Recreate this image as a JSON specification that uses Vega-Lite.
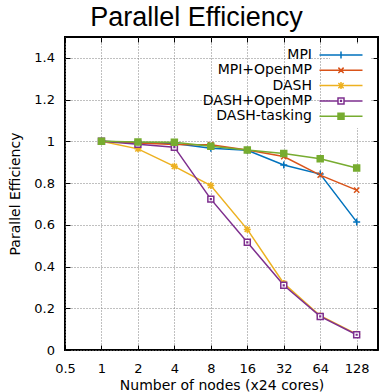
{
  "$schema": "https://vega.github.io/schema/vega-lite/v6.json",
  "autosize": {"type": "none"},
  "padding": {"left": 65, "top": 37, "right": 1, "bottom": 42},
  "width": 313,
  "height": 313,
  "background": "white",
  "title": {"text": "Parallel Efficiency", "font": "Liberation Sans", "fontSize": 27, "fontWeight": "normal", "color": "black", "anchor": "middle", "baseline": "alphabetic", "offset": 9, "dx": -25, "dy": 25},
  "config": {
    "font": "DejaVu Sans",
    "view": {"stroke": "black", "strokeWidth": 2},
    "axis": {"labelColor": "black", "titleColor": "black", "tickColor": "black", "tickWidth": 1, "tickSize": -5, "domain": false, "gridColor": "#808080", "gridDash": [1, 2], "gridWidth": 1, "labelFont": "DejaVu Sans", "titleFont": "DejaVu Sans", "labelFontSize": 13, "titleFontSize": 14, "titleFontWeight": "normal"}
  },
  "data": {"values": [
    {"n": 1, "series": "MPI", "eff": 1.0},
    {"n": 2, "series": "MPI", "eff": 0.995},
    {"n": 4, "series": "MPI", "eff": 0.99},
    {"n": 8, "series": "MPI", "eff": 0.967},
    {"n": 16, "series": "MPI", "eff": 0.957},
    {"n": 32, "series": "MPI", "eff": 0.887},
    {"n": 64, "series": "MPI", "eff": 0.843},
    {"n": 128, "series": "MPI", "eff": 0.614},
    {"n": 1, "series": "MPI+OpenMP", "eff": 1.0},
    {"n": 2, "series": "MPI+OpenMP", "eff": 0.992},
    {"n": 4, "series": "MPI+OpenMP", "eff": 0.985},
    {"n": 8, "series": "MPI+OpenMP", "eff": 0.984},
    {"n": 16, "series": "MPI+OpenMP", "eff": 0.959},
    {"n": 32, "series": "MPI+OpenMP", "eff": 0.927},
    {"n": 64, "series": "MPI+OpenMP", "eff": 0.838},
    {"n": 128, "series": "MPI+OpenMP", "eff": 0.766},
    {"n": 1, "series": "DASH", "eff": 1.0},
    {"n": 2, "series": "DASH", "eff": 0.964},
    {"n": 4, "series": "DASH", "eff": 0.88},
    {"n": 8, "series": "DASH", "eff": 0.788},
    {"n": 16, "series": "DASH", "eff": 0.578},
    {"n": 32, "series": "DASH", "eff": 0.319},
    {"n": 64, "series": "DASH", "eff": 0.164},
    {"n": 128, "series": "DASH", "eff": 0.076},
    {"n": 1, "series": "DASH+OpenMP", "eff": 1.0},
    {"n": 2, "series": "DASH+OpenMP", "eff": 0.986},
    {"n": 4, "series": "DASH+OpenMP", "eff": 0.972},
    {"n": 8, "series": "DASH+OpenMP", "eff": 0.723},
    {"n": 16, "series": "DASH+OpenMP", "eff": 0.516},
    {"n": 32, "series": "DASH+OpenMP", "eff": 0.31},
    {"n": 64, "series": "DASH+OpenMP", "eff": 0.161},
    {"n": 128, "series": "DASH+OpenMP", "eff": 0.073},
    {"n": 1, "series": "DASH-tasking", "eff": 1.0},
    {"n": 2, "series": "DASH-tasking", "eff": 0.997},
    {"n": 4, "series": "DASH-tasking", "eff": 0.996},
    {"n": 8, "series": "DASH-tasking", "eff": 0.976},
    {"n": 16, "series": "DASH-tasking", "eff": 0.958},
    {"n": 32, "series": "DASH-tasking", "eff": 0.942},
    {"n": 64, "series": "DASH-tasking", "eff": 0.917},
    {"n": 128, "series": "DASH-tasking", "eff": 0.872}
  ]},
  "resolve": {"axis": {"x": "independent", "y": "independent"}},
  "layer": [
    {
      "mark": {"type": "line", "strokeWidth": 1.5},
      "encoding": {
        "x": {"field": "n", "type": "quantitative",
          "scale": {"type": "log", "base": 2, "domain": [0.5, 192], "nice": false},
          "axis": {"orient": "bottom", "values": [0.5, 1, 2, 4, 8, 16, 32, 64, 128], "format": "~g", "labelPadding": 27, "labelBaseline": "alphabetic", "labelFlush": false, "title": "Number of nodes (x24 cores)", "titleBaseline": "alphabetic", "titleY": 39, "grid": true}},
        "y": {"field": "eff", "type": "quantitative",
          "scale": {"domain": [0, 1.5], "nice": false, "zero": true},
          "axis": {"orient": "left", "values": [0, 0.2, 0.4, 0.6, 0.8, 1, 1.2, 1.4], "format": "~g", "labelPadding": 15.5, "labelBaseline": "middle", "labelFlush": false, "title": "Parallel Efficiency", "titleAngle": -90, "titleBaseline": "alphabetic", "titleX": -46, "titleY": 156.5, "titleAlign": "center", "grid": true}},
        "color": {"field": "series", "type": "nominal",
          "scale": {"domain": ["MPI", "MPI+OpenMP", "DASH", "DASH+OpenMP", "DASH-tasking"], "range": ["#0072bd", "#d95319", "#edb120", "#7e2f8e", "#77ac30"]},
          "legend": {
            "orient": "none", "legendX": 265, "legendY": 7,
            "title": null,
            "labelFont": "DejaVu Sans", "labelFontSize": 14, "labelColor": "black",
            "labelAlign": "right", "labelOffset": -36,
            "symbolSize": 100, "symbolStrokeWidth": 1.5,
            "rowPadding": 1.3,
            "fillColor": "white", "padding": 4,
            "encode": {"symbols": {"update": {
              "shape": {"signal": "datum.value === 'MPI' ? 'M-4.3,0H4.3M0,-0.7V0.7' : datum.value === 'MPI+OpenMP' ? 'M-4.3,0H4.3M-0.53,-0.53L0.53,0.53M-0.53,0.53L0.53,-0.53' : datum.value === 'DASH' ? 'M-4.3,0H4.3M0,-0.7V0.7M-0.53,-0.53L0.53,0.53M-0.53,0.53L0.53,-0.53' : datum.value === 'DASH+OpenMP' ? 'M-4.3,0H-0.6M0.6,0H4.3M-0.6,-0.6H0.6V0.6H-0.6ZM-0.08,-0.08H0.08V0.08H-0.08Z' : 'M-4.3,0H4.3M-0.6,-0.6H0.6V0.6H-0.6Z'"},
              "fill": {"signal": "datum.value === 'DASH-tasking' ? '#77ac30' : datum.value === 'DASH+OpenMP' ? 'white' : 'transparent'"},
              "stroke": {"scale": "color", "field": "value"},
              "strokeWidth": {"value": 1.5},
              "opacity": {"value": 1}
            }}}
          }}
      }
    },
    {
      "mark": {"type": "point", "strokeWidth": 1.5, "opacity": 1, "size": 49, "filled": false},
      "encoding": {
        "x": {"field": "n", "type": "quantitative",
          "scale": {"type": "log", "base": 2, "domain": [0.5, 192], "nice": false},
          "axis": {"orient": "top", "values": [0.5, 1, 2, 4, 8, 16, 32, 64, 128], "labels": false, "grid": false, "title": null}},
        "y": {"field": "eff", "type": "quantitative",
          "scale": {"domain": [0, 1.5], "nice": false, "zero": true},
          "axis": {"orient": "right", "values": [0, 0.2, 0.4, 0.6, 0.8, 1, 1.2, 1.4], "labels": false, "grid": false, "title": null}},
        "color": {"field": "series", "type": "nominal"},
        "shape": {
          "condition": [
            {"test": "datum.series === 'MPI'", "value": "M-1,0H1M0,-1V1"},
            {"test": "datum.series === 'MPI+OpenMP'", "value": "M-0.75,-0.75L0.75,0.75M-0.75,0.75L0.75,-0.75"},
            {"test": "datum.series === 'DASH'", "value": "M-1,0H1M0,-1V1M-0.75,-0.75L0.75,0.75M-0.75,0.75L0.75,-0.75"},
            {"test": "datum.series === 'DASH+OpenMP'", "value": "M-0.85,-0.85H0.85V0.85H-0.85ZM-0.1,-0.1H0.1V0.1H-0.1Z"}
          ],
          "value": "M-0.85,-0.85H0.85V0.85H-0.85Z"},
        "fill": {
          "condition": [
            {"test": "datum.series === 'DASH+OpenMP'", "value": "white"},
            {"test": "datum.series === 'DASH-tasking'", "value": "#77ac30"}
          ],
          "value": "transparent"}
      }
    }
  ]
}
